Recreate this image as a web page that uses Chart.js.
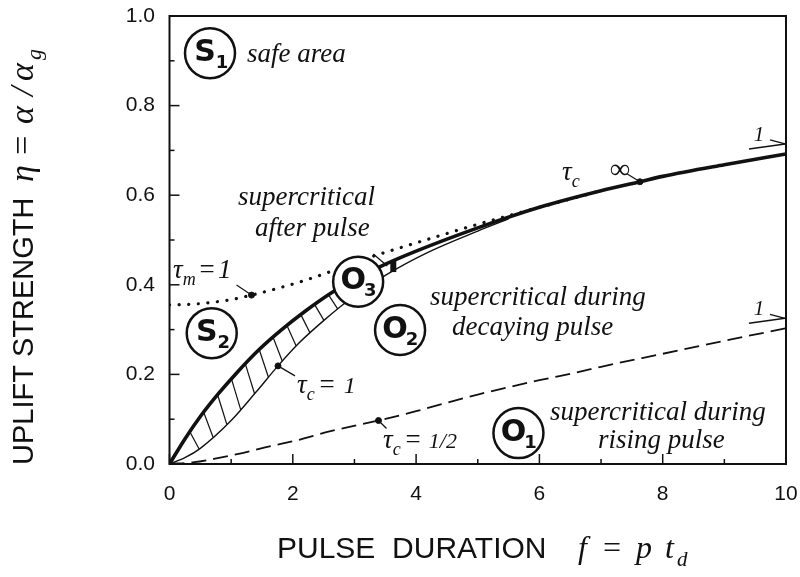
<!DOCTYPE html>
<html>
<head>
<meta charset="utf-8">
<script src="https://cdn.jsdelivr.net/npm/chart.js@4.4.0/dist/chart.umd.min.js"></script>
<style>
  html, body { margin: 0; padding: 0; background: #ffffff; }
  #wrap { width: 800px; height: 577px; }
</style>
</head>
<body>
<div id="wrap"><canvas id="chart" width="800" height="577"></canvas></div>
<script>
// ---- boundary curves: uplift strength eta vs pulse duration f ----
// tau_c = infinity (thick solid)
const infX = [0, 0.25, 0.5, 0.8, 1.1, 1.45, 1.82, 2.2, 2.66, 3.05, 3.41, 4, 5, 6, 7, 7.63, 8, 9, 10];
const infY = [0, 0.056, 0.106, 0.158, 0.205, 0.255, 0.3, 0.341, 0.385, 0.415, 0.44, 0.475, 0.527, 0.573, 0.61, 0.63, 0.642, 0.668, 0.692];
// tau_c = 1 (thin solid)
const oneX = [0, 0.25, 0.5, 1.0, 1.4, 1.76, 2.1, 2.5, 2.9, 3.5, 4.2, 5.0, 5.5];
const oneY = [0, 0.014, 0.035, 0.097, 0.16, 0.219, 0.27, 0.32, 0.365, 0.421, 0.473, 0.52, 0.547];
// tau_m = 1 (dotted)
const memX = [0, 0.5, 1.0, 1.33, 1.7, 2.2, 2.6, 3.0, 3.4, 4.2, 5.0, 5.6, 6.2, 7.0];
const memY = [0.355, 0.358, 0.367, 0.377, 0.39, 0.41, 0.429, 0.45, 0.468, 0.502, 0.535, 0.558, 0.58, 0.61];
// tau_c = 1/2 (dashed)
const halfX = [0, 0.4, 0.74, 1.2, 1.55, 2.04, 2.63, 3.39, 4, 5, 6, 6.66, 7, 8, 9, 10];
const halfY = [0, 0.004, 0.012, 0.025, 0.037, 0.052, 0.074, 0.097, 0.118, 0.155, 0.187, 0.206, 0.217, 0.246, 0.275, 0.303];

// labelled points on the curves
const markerX = [1.33, 1.76, 3.39, 7.63];
const markerY = [0.377, 0.219, 0.097, 0.63];
const bandMarkerX = 3.63;

// axis ticks
const xTickValues = [0, 2, 4, 6, 8, 10];
const yTickValues = [0.0, 0.2, 0.4, 0.6, 0.8, 1.0];

// region symbols and their captions
const regionNames = ['S', 'S', 'O', 'O', 'O'];
const regionIndex = ['1', '2', '3', '2', '1'];
const regionAt = [[0.657, 0.917], [0.685, 0.292], [3.06, 0.407], [3.74, 0.299], [5.66, 0.069]];

const captionText = ['safe area', 'supercritical', 'after pulse', 'supercritical during', 'decaying pulse', 'supercritical during', 'rising pulse'];
const captionAt = [[1.257, 0.897], [1.111, 0.578], [1.387, 0.509], [4.226, 0.355], [4.582, 0.288], [6.172, 0.098], [6.95, 0.036]];

const SERIF = '"Liberation Serif", "Times New Roman", serif';
const SANS = '"Liberation Sans", Arial, sans-serif';
const BOLD = '"DejaVu Sans", Verdana, sans-serif';
const INK = '#111111';

const pts = (xs, ys) => xs.map((x, i) => ({ x: x, y: ys[i] }));

function interp(xs, ys, x) {
  if (x <= xs[0]) return ys[0];
  for (let i = 1; i < xs.length; i++) {
    if (x <= xs[i]) {
      const t = (x - xs[i - 1]) / (xs[i] - xs[i - 1]);
      return ys[i - 1] + t * (ys[i] - ys[i - 1]);
    }
  }
  return ys[ys.length - 1];
}

// draw a run of text pieces (main text, subscripts) left to right
function drawRuns(ctx, x, y, parts) {
  let cx = x;
  for (const p of parts) {
    ctx.font = p.font;
    cx += p.dx || 0;
    ctx.fillText(p.t, cx, y + (p.dy || 0));
    cx += ctx.measureText(p.t).width;
  }
  return cx;
}
const it = (sz) => `italic ${sz}px ${SERIF}`;

function line(ctx, x1, y1, x2, y2, w) {
  ctx.lineWidth = w;
  ctx.beginPath();
  ctx.moveTo(x1, y1);
  ctx.lineTo(x2, y2);
  ctx.stroke();
}

// keep the plot box fixed: no extra room for overhanging tick labels
function noOverhang(s) {
  s.paddingTop = 0; s.paddingBottom = 0; s.paddingLeft = 0; s.paddingRight = 0;
}

const decorations = {
  id: 'decorations',
  afterDatasetsDraw(chart) {
    const ctx = chart.ctx;
    const xs = chart.scales.x, ys = chart.scales.y;
    const a = chart.chartArea;
    const P = (x, y) => [xs.getPixelForValue(x), ys.getPixelForValue(y)];
    ctx.save();
    ctx.strokeStyle = INK;
    ctx.fillStyle = INK;
    ctx.lineCap = 'butt';

    // hatching between tau_c = infinity and tau_c = 1
    for (let h = 0.33; h <= 2.6; h += 0.225) {
      const [x1, y1] = P(h, interp(infX, infY, h));
      const [x2, y2] = P(h + 0.15, interp(oneX, oneY, h + 0.15));
      line(ctx, x1, y1, x2, y2, 1.2);
    }

    // black bar across the double line
    {
      const [x1, y1] = P(bandMarkerX, interp(infX, infY, bandMarkerX));
      const [x2, y2] = P(bandMarkerX, interp(oneX, oneY, bandMarkerX));
      line(ctx, x1, y1 - 1, x2, y2 + 1, 6);
      line(ctx, x1 - 20, (y1 + y2) / 2 - 12, x1 - 6, (y1 + y2) / 2, 1.2);
    }

    // frame
    ctx.lineWidth = 2;
    ctx.strokeRect(a.left, a.top, a.right - a.left, a.bottom - a.top);

    // inward tick marks
    for (let v = 0; v <= 10; v += 1) {
      const px = xs.getPixelForValue(v);
      const len = v % 2 === 0 ? 10 : 5;
      line(ctx, px, a.bottom, px, a.bottom - len, 1.5);
    }
    for (let k = 0; k <= 10; k++) {
      const py = ys.getPixelForValue(k / 10);
      const len = k % 2 === 0 ? 10 : 5;
      line(ctx, a.left, py, a.left + len, py, 1.5);
    }

    // leaders from labelled points
    const leads = [[-15, -10], [17, 10], [8, 8], [-13, -8]];
    markerX.forEach((mx, i) => {
      const [px, py] = P(mx, markerY[i]);
      line(ctx, px, py, px + leads[i][0], py + leads[i][1], 1.2);
    });

    // asymptote arrows at f = 10
    [[infX, infY], [halfX, halfY]].forEach(([cx, cy]) => {
      const [ex, ey] = P(cx[cx.length - 1], cy[cy.length - 1]);
      line(ctx, ex - 37, ey - 5, ex - 1, ey - 10, 1.3);
      line(ctx, ex - 1, ey - 10, ex - 16, ey - 14, 1.3);
      ctx.font = it(21);
      ctx.textAlign = 'center';
      ctx.textBaseline = 'alphabetic';
      ctx.fillText('1', ex - 27, ey - 13);
    });

    // region symbols
    ctx.textBaseline = 'middle';
    regionAt.forEach(([rx, ry], i) => {
      const [cx, cy] = P(rx, ry);
      ctx.beginPath();
      ctx.arc(cx, cy, 25, 0, Math.PI * 2);
      ctx.fillStyle = '#ffffff';
      ctx.fill();
      ctx.lineWidth = 2.5;
      ctx.stroke();
      ctx.fillStyle = INK;
      ctx.textAlign = 'center';
      ctx.font = `bold 30px ${BOLD}`;
      ctx.fillText(regionNames[i], cx - 5, cy);
      ctx.font = `bold 18px ${BOLD}`;
      ctx.fillText(regionIndex[i], cx + 12, cy + 10);
    });

    // region captions
    ctx.textAlign = 'left';
    ctx.textBaseline = 'alphabetic';
    ctx.font = it(27);
    captionText.forEach((t, i) => {
      const [px, py] = P(captionAt[i][0], captionAt[i][1]);
      ctx.fillText(t, px, py);
    });

    // curve parameter labels
    let q = P(0.057, 0.415);
    drawRuns(ctx, q[0], q[1], [
      { t: 'τ', font: it(27) }, { t: 'm', font: it(18), dy: 7 },
      { t: '=', font: it(27), dx: 2 }, { t: '1', font: it(27), dx: 2 }]);
    q = P(2.068, 0.158);
    drawRuns(ctx, q[0], q[1], [
      { t: 'τ', font: it(27) }, { t: 'c', font: it(18), dy: 7 },
      { t: '=', font: it(27), dx: 3 }, { t: '1', font: it(24), dx: 8 }]);
    q = P(3.463, 0.036);
    drawRuns(ctx, q[0], q[1], [
      { t: 'τ', font: it(27) }, { t: 'c', font: it(18), dy: 7 },
      { t: '=', font: it(27), dx: 3 }, { t: '1/2', font: it(22), dx: 7 }]);
    q = P(6.367, 0.634);
    drawRuns(ctx, q[0], q[1], [{ t: 'τ', font: it(27) }, { t: 'c', font: it(18), dy: 7 }]);
    q = P(7.145, 0.638);
    drawRuns(ctx, q[0], q[1], [{ t: '∞', font: it(28) }]);

    // x axis title
    ctx.font = `30px ${SANS}`;
    ctx.fillText('PULSE  DURATION', 277, 558);
    ctx.font = it(32);
    ctx.fillText('f', 578, 558);
    ctx.fillText('=', 601, 558);
    ctx.fillText('p', 636, 558);
    ctx.fillText('t', 665, 558);
    ctx.font = it(21);
    ctx.fillText('d', 677, 566);

    // y axis title
    ctx.save();
    ctx.translate(33, 465);
    ctx.rotate(-Math.PI / 2);
    ctx.font = `29px ${SANS}`;
    ctx.fillText('UPLIFT STRENGTH', 0, 0);
    ctx.font = it(34);
    ctx.fillText('η', 283, 0);
    ctx.fillText('=', 308, 0);
    ctx.fillText('α', 341, 0);
    ctx.fillText('/', 369, 0);
    ctx.fillText('α', 384, 0);
    ctx.font = it(22);
    ctx.fillText('g', 405, 8);
    ctx.restore();

    ctx.restore();
  }
};

new Chart(document.getElementById('chart'), {
  type: 'line',
  data: {
    datasets: [
      { label: 'tau_c = inf', data: pts(infX, infY), borderColor: INK, borderWidth: 3.6, pointRadius: 0, cubicInterpolationMode: 'monotone' },
      { label: 'tau_c = 1', data: pts(oneX, oneY), borderColor: INK, borderWidth: 1.4, pointRadius: 0, cubicInterpolationMode: 'monotone' },
      { label: 'tau_m = 1', data: pts(memX, memY), borderColor: INK, borderWidth: 3.2, borderDash: [0.1, 9.5], borderCapStyle: 'round', pointRadius: 0, cubicInterpolationMode: 'monotone' },
      { label: 'tau_c = 1/2', data: pts(halfX, halfY), borderColor: INK, borderWidth: 1.8, borderDash: [15, 7], pointRadius: 0, cubicInterpolationMode: 'monotone' },
      { type: 'scatter', label: 'points', data: pts(markerX, markerY), pointRadius: 3, backgroundColor: INK, borderColor: INK, showLine: false }
    ]
  },
  options: {
    responsive: false,
    animation: false,
    devicePixelRatio: 1,
    layout: { padding: { left: 0, right: 14, top: 16, bottom: 0 } },
    plugins: { legend: { display: false }, tooltip: { enabled: false } },
    scales: {
      x: {
        type: 'linear', min: 0, max: 10,
        grid: { display: false, drawTicks: false },
        border: { display: false },
        afterFit: (s) => { s.height = 113; noOverhang(s); },
        afterBuildTicks: (s) => { s.ticks = xTickValues.map(v => ({ value: v })); },
        ticks: { padding: 18, color: INK, font: { family: SANS, size: 21 }, maxRotation: 0, callback: (v) => String(v) }
      },
      y: {
        type: 'linear', min: 0, max: 1,
        grid: { display: false, drawTicks: false },
        border: { display: false },
        afterFit: (s) => { s.width = 169.5; noOverhang(s); },
        afterBuildTicks: (s) => { s.ticks = yTickValues.map(v => ({ value: v })); },
        ticks: { padding: 14.5, color: INK, font: { family: SANS, size: 21 }, callback: (v) => Number(v).toFixed(1) }
      }
    }
  },
  plugins: [decorations]
});
</script>
</body>
</html>
